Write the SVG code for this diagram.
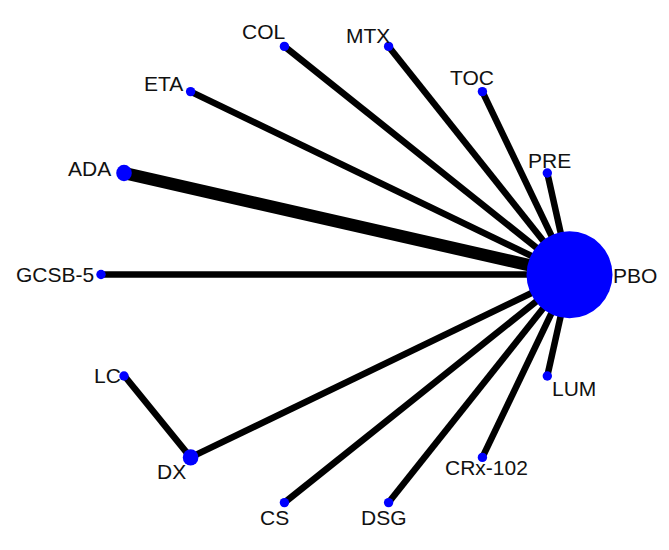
<svg xmlns="http://www.w3.org/2000/svg" width="669" height="550" viewBox="0 0 669 550">
<style>
.e{stroke:#000;stroke-width:6.5;fill:none}
.n{fill:#0000ff}
text{font-family:"Liberation Sans",Arial,sans-serif;font-size:21px;fill:#111}
</style>
<rect width="669" height="550" fill="#fff"/>
<g id="connectors">
<line class="e" x1="284.4" y1="46.4" x2="570" y2="274.5"/>
<line class="e" x1="388.6" y1="46.4" x2="570" y2="274.5"/>
<line class="e" x1="190.6" y1="91.6" x2="570" y2="274.5"/>
<line class="e" x1="482.4" y1="91.6" x2="570" y2="274.5"/>
<line class="e" x1="547.3" y1="173" x2="570" y2="274.5"/>
<line class="e" x1="124" y1="173" x2="570" y2="274.5" style="stroke-width:12.5"/>
<line class="e" x1="102.5" y1="274.5" x2="570" y2="274.5"/>
<line class="e" x1="190.6" y1="457.4" x2="570" y2="274.5"/>
<line class="e" x1="124.5" y1="376" x2="190.6" y2="457.4"/>
<line class="e" x1="547.3" y1="376" x2="570" y2="274.5"/>
<line class="e" x1="482.4" y1="457.4" x2="570" y2="274.5"/>
<line class="e" x1="284.4" y1="502.6" x2="570" y2="274.5"/>
<line class="e" x1="388.6" y1="502.6" x2="570" y2="274.5"/>
</g>
<g id="PBO"><ellipse class="n" cx="569.5" cy="274.7" rx="43" ry="43.5"/><text x="613" y="283">PBO</text></g>
<g id="COL"><circle class="n" cx="284.4" cy="46.4" r="4.7"/><text x="242" y="39">COL</text></g>
<g id="MTX"><circle class="n" cx="388.6" cy="46.4" r="4.7"/><text x="346" y="43">MTX</text></g>
<g id="ETA"><circle class="n" cx="190.6" cy="91.6" r="4.7"/><text x="144" y="91">ETA</text></g>
<g id="TOC"><circle class="n" cx="482.4" cy="91.6" r="4.7"/><text x="450" y="85">TOC</text></g>
<g id="PRE"><circle class="n" cx="547.3" cy="173" r="4.7"/><text x="528" y="168">PRE</text></g>
<g id="ADA"><ellipse class="n" cx="124" cy="173" rx="7.8" ry="8.2"/><text x="68" y="176">ADA</text></g>
<g id="GCSB-5"><circle class="n" cx="101" cy="274.5" r="4.7"/><text x="16" y="282">GCSB-5</text></g>
<g id="LC"><circle class="n" cx="124" cy="376" r="4.7"/><text x="94" y="383">LC</text></g>
<g id="DX"><ellipse class="n" cx="190.6" cy="457.4" rx="7.8" ry="8.2"/><text x="157" y="479">DX</text></g>
<g id="LUM"><circle class="n" cx="547.3" cy="376" r="4.7"/><text x="552" y="396">LUM</text></g>
<g id="CRx-102"><circle class="n" cx="482.4" cy="457.4" r="4.7"/><text x="445" y="475">CRx-102</text></g>
<g id="CS"><circle class="n" cx="284.4" cy="502.6" r="4.7"/><text x="260" y="525">CS</text></g>
<g id="DSG"><circle class="n" cx="388.6" cy="502.6" r="4.7"/><text x="361" y="525">DSG</text></g>
</svg>
